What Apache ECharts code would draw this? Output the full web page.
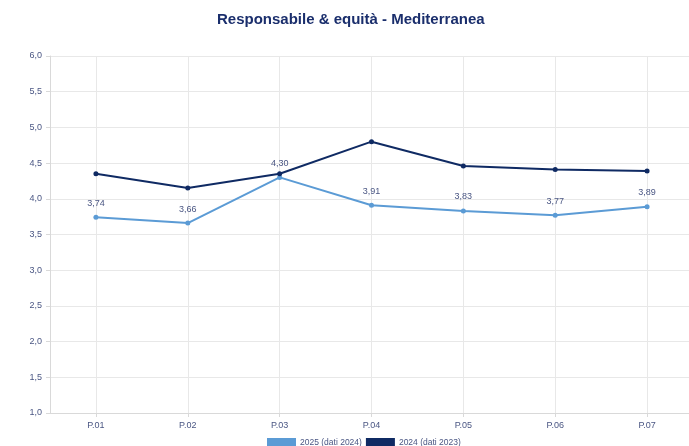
<!DOCTYPE html>
<html>
<head>
<meta charset="utf-8">
<script src="https://cdn.jsdelivr.net/npm/echarts@6/dist/echarts.min.js"></script>
<style>
  html, body { margin: 0; padding: 0; background: #fff; }
  #chart { width: 689px; height: 446px; }
</style>
</head>
<body>
<div id="chart"></div>
<script>
var categories = ['P.01', 'P.02', 'P.03', 'P.04', 'P.05', 'P.06', 'P.07'];
var serie2025 = [3.74, 3.66, 4.30, 3.91, 3.83, 3.77, 3.89];
var serie2024 = [4.35, 4.15, 4.35, 4.80, 4.46, 4.41, 4.39];
var seriesNames = ['2025 (dati 2024)', '2024 (dati 2023)'];

var fmt = function (v) { return v.toFixed(1).replace('.', ','); };
var fmt2 = function (p) { return p.value.toFixed(2).replace('.', ','); };

var chart = echarts.init(document.getElementById('chart'));
chart.setOption({
    animation: false,
    title: {
        text: 'Responsabile & equità - Mediterranea',
        left: 217,
        top: 12,
        padding: 0,
        textStyle: { color: '#1a2e6c', fontSize: 15, fontWeight: 'bold', fontFamily: 'Liberation Sans' }
    },
    legend: {
        data: seriesNames,
        top: 438,
        left: 267,
        padding: 0,
        itemWidth: 29,
        itemHeight: 9,
        itemGap: 4,
        icon: 'rect',
        textStyle: { color: '#4a5683', fontSize: 8.5, fontFamily: 'Liberation Sans', padding: [0, 0, 0, -1] }
    },
    grid: { left: 50, width: 643, top: 56, height: 357, containLabel: false, outerBoundsMode: 'none' },
    xAxis: {
        type: 'category',
        data: categories,
        boundaryGap: true,
        axisLine: { lineStyle: { color: '#d9d9d9' } },
        axisTick: { show: true, alignWithLabel: true, length: 4, lineStyle: { color: '#d9d9d9' } },
        splitLine: { show: true, alignWithLabel: true, lineStyle: { color: '#e8e8e8' } },
        axisLabel: { color: '#4a5683', fontSize: 9, margin: 8, fontFamily: 'Liberation Sans' }
    },
    yAxis: {
        type: 'value',
        min: 1,
        max: 6,
        interval: 0.5,
        axisLine: { show: true, lineStyle: { color: '#d9d9d9' } },
        axisTick: { show: true, length: 4, lineStyle: { color: '#d9d9d9' } },
        splitLine: { lineStyle: { color: '#e8e8e8' } },
        axisLabel: { color: '#4a5683', fontSize: 9, margin: 8, formatter: fmt, fontFamily: 'Liberation Sans' }
    },
    series: [
        {
            name: seriesNames[0],
            type: 'line',
            data: serie2025,
            color: '#5b9bd5',
            symbol: 'circle',
            symbolSize: 5,
            lineStyle: { width: 2 },
            label: {
                show: true,
                position: 'top',
                distance: 7,
                color: '#4a5683',
                fontSize: 9,
                fontFamily: 'Liberation Sans',
                formatter: fmt2
            }
        },
        {
            name: seriesNames[1],
            type: 'line',
            data: serie2024,
            color: '#0f2a63',
            symbol: 'circle',
            symbolSize: 5,
            lineStyle: { width: 2 }
        }
    ]
});
</script>
</body>
</html>
